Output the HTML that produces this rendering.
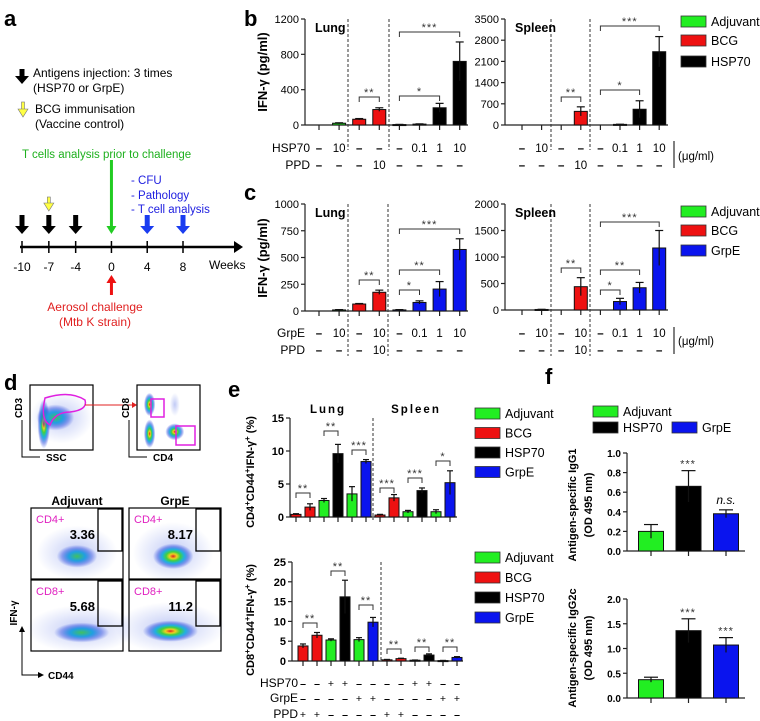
<!DOCTYPE html>
<html><head><meta charset="utf-8"><style>
html,body{margin:0;padding:0;background:#fff;}
svg{display:block;font-family:"Liberation Sans",sans-serif;}
</style></head><body>
<svg id="fig" width="760" height="721" viewBox="0 0 760 721" xmlns="http://www.w3.org/2000/svg">
<defs>
<radialGradient id="dens" cx="50%" cy="50%" r="50%">
<stop offset="0" stop-color="#e02020"/><stop offset="0.18" stop-color="#f0d020"/><stop offset="0.35" stop-color="#40d040"/><stop offset="0.55" stop-color="#20b0e0"/><stop offset="0.78" stop-color="#3050e0" stop-opacity="0.5"/><stop offset="1" stop-color="#3050e0" stop-opacity="0"/>
</radialGradient>
<radialGradient id="dens2" cx="50%" cy="50%" r="50%">
<stop offset="0" stop-color="#40c060"/><stop offset="0.4" stop-color="#20a0e0"/><stop offset="0.75" stop-color="#3050e0" stop-opacity="0.45"/><stop offset="1" stop-color="#3050e0" stop-opacity="0"/>
</radialGradient>
<radialGradient id="sparse" cx="50%" cy="50%" r="50%">
<stop offset="0" stop-color="#3050e0" stop-opacity="0.3"/><stop offset="1" stop-color="#3050e0" stop-opacity="0"/>
</radialGradient>
</defs>
<g id="panelA">
<text x="4" y="26" font-size="22" font-weight="bold">a</text>
<text x="33" y="77" font-size="12">Antigens injection: 3 times</text>
<text x="33" y="92" font-size="12">(HSP70 or GrpE)</text>
<text x="35" y="113" font-size="12">BCG immunisation</text>
<text x="35" y="128" font-size="12">(Vaccine control)</text>
<text x="22" y="158" font-size="11.5" fill="#1eb01e">T cells analysis prior to challenge</text>
<text x="131" y="184" font-size="11.5" fill="#2020e0">- CFU</text>
<text x="131" y="199" font-size="11.5" fill="#2020e0">- Pathology</text>
<text x="131" y="213" font-size="11.5" fill="#2020e0">- T cell analysis</text>
<line x1="20" y1="247" x2="235" y2="247" stroke="#000" stroke-width="2.5"/>
<polygon points="234,241 243,247 234,253" fill="#000"/>
<text x="209" y="269" font-size="12">Weeks</text>
<text x="95" y="311" font-size="12" fill="#e02020" text-anchor="middle">Aerosol challenge</text>
<text x="95" y="326" font-size="12" fill="#e02020" text-anchor="middle">(Mtb K strain)</text>
</g>
<g id="gen"></g>
</svg>
<script>
// ---------- data ----------
const weekTicks=[-10,-7,-4,0,4,8];
const bLungCats=["-","10","-","-","-","0.1","1","10"];
const bLungPPD=["-","-","-","10","-","-","-","-"];
const bLungVals=[0,20,65,175,5,10,195,720];
const bLungErr=[0,5,8,20,2,3,50,220];
const bSpleenCats=["-","10","-","-","-","0.1","1","10"];
const bSpleenVals=[0,0,0,450,0,20,520,2420];
const bSpleenErr=[0,0,0,150,0,5,280,500];
const cLungCats=["-","10","-","10","-","0.1","1","10"];
const cLungPPD=["-","-","-","10","-","-","-","-"];
const cLungVals=[0,10,65,175,10,80,205,575];
const cLungErr=[0,3,5,20,3,15,70,100];
const cSpleenVals=[0,10,0,440,0,160,420,1170];
const cSpleenErr=[0,3,0,170,0,60,100,330];
const bTicks=[0,400,800,1200];
const bSpleenTicks=[0,700,1400,2100,2800,3500];
const cTicks=[0,250,500,750,1000];
const cSpleenTicks=[0,500,1000,1500,2000];
const eUpperVals=[0.4,1.5,2.5,9.6,3.5,8.4,0.3,2.9,0.8,4.0,0.8,5.2];
const eUpperErr=[0.1,0.5,0.3,1.4,1.1,0.3,0.1,0.5,0.2,0.4,0.3,1.8];
const eLowerVals=[3.8,6.5,5.3,16.2,5.4,9.8,0.3,0.6,0.2,1.5,0.1,0.9];
const eLowerErr=[0.5,0.7,0.3,4.2,0.5,1.2,0.1,0.1,0.05,0.3,0.05,0.2];
const eGroups=["BCG","BCG","Adjuvant","HSP70","Adjuvant","GrpE","BCG","BCG","Adjuvant","HSP70","Adjuvant","GrpE"];
const eUpperTicks=[0,5,10,15];
const eLowerTicks=[0,5,10,15,20,25];
const eHSP=["-","-","+","+","-","-","-","-","+","+","-","-"];
const eGrpE=["-","-","-","-","+","+","-","-","-","-","+","+"];
const ePPD=["+","+","-","-","-","-","+","+","-","-","-","-"];
const fGroups=["Adjuvant","HSP70","GrpE"];
const fIgG1Vals=[0.2,0.66,0.38];
const fIgG1Err=[0.07,0.16,0.04];
const fIgG2cVals=[0.37,1.36,1.07];
const fIgG2cErr=[0.05,0.24,0.15];
const fIgG1Ticks=["0.0","0.2","0.4","0.6","0.8","1.0"];
const fIgG2cTicks=["0.0","0.5","1.0","1.5","2.0"];
const colors={Adjuvant:"#22ee22",BCG:"#ee1111",HSP70:"#000000",GrpE:"#0a14ee"};
const bColors=["Adjuvant","Adjuvant","BCG","BCG","HSP70","HSP70","HSP70","HSP70"];
const cColors=["Adjuvant","Adjuvant","BCG","BCG","GrpE","GrpE","GrpE","GrpE"];

const NS="http://www.w3.org/2000/svg";
const G=document.getElementById('gen');
function el(tag,attrs,parent,text){const e=document.createElementNS(NS,tag);for(const k in attrs)e.setAttribute(k,attrs[k]);if(text!==undefined)e.textContent=text;(parent||G).appendChild(e);return e;}

// ---------- panel a ----------
function arrow(x,y1,y2,fill,w,parent){
  const dir=y2>y1?1:-1;
  const g=el('g',{},parent);
  
  
  el('rect',{x:x-w/2,y:Math.min(y1,y2-dir*7),width:w,height:Math.abs(y2-y1)-7,fill:fill,stroke:fill==='#ffff44'?'#777':'none','stroke-width':0.6},g);
  el('polygon',{points:`${x-w-2},${y2-dir*8} ${x+w+2},${y2-dir*8} ${x},${y2}`,fill:fill,stroke:fill==='#ffff44'?'#777':'none','stroke-width':0.6},g);
}
const weekScale=w=>22+(w+10)*(183-22)/18;
weekTicks.forEach(w=>{
  const x=weekScale(w);
  const t=el('line',{x1:x,y1:241,x2:x,y2:253,stroke:'#000','stroke-width':1.5});
  
  
  const l=el('text',{x:x,y:271,'font-size':12,'text-anchor':'middle'},G,String(w));
  
  
});
[-10,-7,-4].forEach(w=>arrow(weekScale(w),215,234,'#000',5));
arrow(22,69,84,'#000',5);
arrow(weekScale(-7),197,211,'#ffff44',3);
arrow(23,102,117,'#ffff44',3);
arrow(weekScale(0),160,234,'#22cc22',3);
arrow(weekScale(4),215,234,'#1a3cf0',5);
arrow(weekScale(8),215,234,'#1a3cf0',5);
arrow(weekScale(0),295,275,'#ee1111',3);

// ---------- generic bar chart ----------
function barChart(o){
  const g=el('g',{});
  
  
  const ys=v=>o.y0-(v-o.vmin)/(o.vmax-o.vmin)*(o.y0-o.yTop);
  el('line',{x1:o.ax,y1:o.yTop,x2:o.ax,y2:o.y0,stroke:'#222','stroke-width':1.2},g);
  el('line',{x1:o.ax,y1:o.y0,x2:o.axEnd,y2:o.y0,stroke:'#222','stroke-width':1.2},g);
  o.ticks.forEach(t=>{
    const y=ys(parseFloat(t));
    el('line',{x1:o.ax-4,y1:y,x2:o.ax,y2:y,stroke:'#222','stroke-width':1.2},g);
    const lab=el('text',{x:o.ax-6,y:y+4,'font-size':o.tfs||11,'text-anchor':'end','font-weight':o.tbold?'bold':'normal','letter-spacing':o.tls||0},g,String(t));
    
    
  });
  o.vals.forEach((v,i)=>{
    const x=o.x0+o.step*i;
    el('line',{x1:x,y1:o.y0,x2:x,y2:o.y0+5,stroke:'#222','stroke-width':1.2},g);
    if(v<=0&&!o.showZero)return;
    const top=ys(v);
    const r=el('rect',{x:x-o.bw/2,y:top,width:o.bw,height:Math.max(o.y0-top,1),fill:colors[o.groups[i]],stroke:'#111','stroke-width':1},g);
    
    
    const e=o.err[i];
    if(e>0){
      const yt=ys(v+e),yb=ys(Math.max(v-e,0));
      el('line',{x1:x,y1:yt,x2:x,y2:yb,stroke:'#111','stroke-width':1.2},g);
      el('line',{x1:x-o.capw,y1:yt,x2:x+o.capw,y2:yt,stroke:'#111','stroke-width':1.2},g);
    }
  });
  (o.dashes||[]).forEach(d=>{
    const l=el('line',{x1:d,y1:o.yTop,x2:d,y2:o.dashBottom||o.y0+40,stroke:'#333','stroke-width':1,'stroke-dasharray':'3,2'},g);
    
    
  });
  (o.brackets||[]).forEach(b=>{
    const xa=o.x0+o.step*b[0],xb=o.x0+o.step*b[1],y=b[2];
    const p=el('path',{d:`M${xa},${y+5}V${y}H${xb}V${y+5}`,fill:'none',stroke:'#333','stroke-width':1},g);
    
    
    const s=el('text',{x:(xa+xb)/2,y:y-1,'font-size':11,'text-anchor':'middle',fill:'#333','letter-spacing':1},g,b[3]);
    
    
  });
  (o.rows||[]).forEach(r=>{
    if(r.label){const t=el('text',{x:r.lx,y:r.y,'font-size':12,'text-anchor':'end'},g,r.label);
      }
    r.vals.forEach((s,i)=>{
      const t=el('text',{x:o.x0+o.step*i,y:r.y,'font-size':r.fs||11.5,'text-anchor':'middle','font-weight':s==='-'?'bold':'normal'},g,s==='-'?'–':s);
      
      
    });
  });
  if(o.title){
    const t=el('text',{x:o.title.x,y:o.title.y,'font-size':12.5,'font-weight':'bold','text-anchor':'start'},g,o.title.text);
    
    
  }
  return {g,ys};
}
function legend(x,y0,dy,items,name){
  const g=el('g',{});
  
  
  items.forEach((it,i)=>{
    const xx=Array.isArray(x)?x[i]:x, yy=Array.isArray(y0)?y0[i]:y0+dy*i;
    el('rect',{x:xx,y:yy-5,width:25,height:11,fill:colors[it],stroke:'#333','stroke-width':0.8},g);
    const t=el('text',{x:xx+30,y:yy+5,'font-size':12.5},g,it);
    
    
  });
}
function vtitle(x,y,parts,name,fs){
  const t=el('text',{x:0,y:0,'font-size':fs||12,'font-weight':'bold','text-anchor':'middle',transform:`translate(${x},${y}) rotate(-90)`});
  
  
  parts.forEach(p=>{el('tspan',p.sup?{'baseline-shift':'super','font-size':8}:{},t,p.t);});
}
function panelLabel(x,y,s){const t=el('text',{x,y,'font-size':22,'font-weight':'bold'},G,s);
  }

// ---------- panel b ----------
panelLabel(244,26,'b');
barChart({name:'b-lung-chart',ax:305,axEnd:468,y0:125,yTop:19,vmin:0,vmax:1200,ticks:bTicks,vals:bLungVals,err:bLungErr,groups:bColors,
 x0:319,step:20.1,bw:13,capw:4,dashes:[348,389],dashBottom:150,
 brackets:[[2,3,97,'**'],[4,6,96,'*'],[4,7,32,'***']],
 rows:[{label:'HSP70',lx:310,y:152,vals:bLungCats},{label:'PPD',lx:310,y:169,vals:bLungPPD}],
 title:{x:315,y:32,text:'Lung'}});
vtitle(267,72,[{t:'IFN-γ (pg/ml)'}],'b-y-axis-title',13);
barChart({name:'b-spleen-chart',ax:505,axEnd:668,y0:125,yTop:19,vmin:0,vmax:3500,ticks:bSpleenTicks,vals:bSpleenVals,err:bSpleenErr,groups:bColors,
 x0:522,step:19.6,bw:13,capw:4,dashes:[551,590],dashBottom:150,
 brackets:[[2,3,97,'**'],[4,6,90,'*'],[4,7,26,'***']],
 rows:[{y:152,vals:bSpleenCats},{y:169,vals:bLungPPD}],
 title:{x:515,y:32,text:'Spleen'}});
legend(681,[21,40,61],0,['Adjuvant','BCG','HSP70'],'b-legend');
el('line',{x1:674,y1:141,x2:674,y2:168,stroke:'#000','stroke-width':1});
el('text',{x:678,y:160,'font-size':11.5},G,'(μg/ml)');

// ---------- panel c ----------
panelLabel(244,200,'c');
barChart({name:'c-lung-chart',ax:305,axEnd:468,y0:311,yTop:204,vmin:0,vmax:1000,ticks:cTicks,vals:cLungVals,err:cLungErr,groups:cColors,
 x0:319,step:20.1,bw:13,capw:4,dashes:[348,388],dashBottom:356,
 brackets:[[2,3,280,'**'],[4,5,290,'*'],[4,6,270,'**'],[4,7,229,'***']],
 rows:[{label:'GrpE',lx:305,y:337,vals:cLungCats},{label:'PPD',lx:305,y:354,vals:cLungPPD}],
 title:{x:315,y:217,text:'Lung'}});
vtitle(267,258,[{t:'IFN-γ (pg/ml)'}],'c-y-axis-title',13);
barChart({name:'c-spleen-chart',ax:505,axEnd:668,y0:310,yTop:204,vmin:0,vmax:2000,ticks:cSpleenTicks,vals:cSpleenVals,err:cSpleenErr,groups:cColors,
 x0:522,step:19.6,bw:13,capw:4,dashes:[551,590],dashBottom:356,
 brackets:[[2,3,268,'**'],[4,5,290,'*'],[4,6,270,'**'],[4,7,222,'***']],
 rows:[{y:337,vals:cLungCats},{y:354,vals:cLungPPD}],
 title:{x:515,y:217,text:'Spleen'}});
legend(681,[211,230,250],0,['Adjuvant','BCG','GrpE'],'c-legend');
el('line',{x1:674,y1:327,x2:674,y2:354,stroke:'#000','stroke-width':1});
el('text',{x:678,y:345,'font-size':11.5},G,'(μg/ml)');

// ---------- panel d (flow cytometry) ----------
panelLabel(4,390,'d');
function flow(x,y,w,h,blobs,name){
  const g=el('g',{});
  
  
  el('rect',{x,y,width:w,height:h,fill:'#fff',stroke:'#000','stroke-width':1.2},g);
  blobs.forEach(b=>el('ellipse',{cx:x+b[0]*w,cy:y+b[1]*h,rx:b[2]*w,ry:b[3]*h,fill:`url(#${b[4]||'dens'})`},g));
  return g;
}
flow(30,385,63,65,[[0.5,0.5,0.5,0.4,'sparse'],[0.22,0.6,0.1,0.38],[0.4,0.5,0.3,0.2,'dens2']],'flow-cd3-ssc');
el('path',{d:'M45,398 Q70,390 85,400 Q88,410 70,412 Q55,412 50,425 Q40,420 45,398Z',fill:'none',stroke:'#e020e0','stroke-width':1.5});
el('line',{x1:85,y1:405,x2:132,y2:405,stroke:'#e02020','stroke-width':1});
el('polygon',{points:'132,402 137,405 132,408',fill:'#e02020'});
flow(137,385,63,65,[[0.2,0.3,0.09,0.18],[0.2,0.75,0.09,0.22],[0.6,0.72,0.15,0.13],[0.6,0.3,0.08,0.18,'sparse']],'flow-cd8-cd4');
el('rect',{x:151,y:399,width:13,height:18,fill:'none',stroke:'#e020e0','stroke-width':1.5});
el('rect',{x:176,y:426,width:19,height:19,fill:'none',stroke:'#e020e0','stroke-width':1.5});
[[30,'CD3','SSC'],[137,'CD8','CD4']].forEach(a=>{
  el('path',{d:`M${a[0]-8},420V457H${a[0]+10}`,fill:'none',stroke:'#000','stroke-width':1});
  el('text',{x:a[0]+16,y:461,'font-size':10,'font-weight':'bold'},G,a[2]);
  el('text',{x:0,y:0,'font-size':10,'font-weight':'bold','text-anchor':'middle',transform:`translate(${a[0]-8},408) rotate(-90)`},G,a[1]);
});
el('text',{x:77,y:505,'font-size':12,'font-weight':'bold','text-anchor':'middle'},G,'Adjuvant');
el('text',{x:175,y:505,'font-size':12,'font-weight':'bold','text-anchor':'middle'},G,'GrpE');
const dplots=[[31,508,'CD4+','3.36',[0.5,0.68,0.22,0.16],'flow-cd4-adjuvant'],[129,508,'CD4+','8.17',[0.48,0.68,0.22,0.18],'flow-cd4-grpe'],
 [31,580,'CD8+','5.68',[0.55,0.74,0.3,0.14],'flow-cd8-adjuvant'],[129,580,'CD8+','11.2',[0.45,0.72,0.3,0.15],'flow-cd8-grpe']];
dplots.forEach(p=>{
  const g=flow(p[0],p[1],92,71,[[p[4][0],p[4][1]-0.05,p[4][2]*2,p[4][3]*2.4,'sparse'],[p[4][0],p[4][1],p[4][2],p[4][3],(p[3]==='3.36'||p[3]==='5.68')?'dens2':'dens']],p[5]);
  el('rect',{x:p[0]+67,y:p[1]+1,width:24,height:(p[2]==='CD4+'?42:45),fill:'none',stroke:'#000','stroke-width':1.3},g);
  el('text',{x:p[0]+5,y:p[1]+15,'font-size':11,fill:'#e020c0'},g,p[2]);
  el('text',{x:p[0]+64,y:p[1]+31,'font-size':13,'font-weight':'bold','text-anchor':'end'},g,p[3]);
});
el('path',{d:'M22,630V675H38',fill:'none',stroke:'#000','stroke-width':1});
el('polygon',{points:'19,632 22,626 25,632',fill:'#000'});
el('polygon',{points:'38,672 44,675 38,678',fill:'#000'});
el('text',{x:48,y:679,'font-size':10,'font-weight':'bold'},G,'CD44');
el('text',{x:0,y:0,'font-size':10,'font-weight':'bold','text-anchor':'middle',transform:'translate(17,613) rotate(-90)'},G,'IFN-γ');

// ---------- panel e ----------
panelLabel(228,397,'e');
barChart({name:'e-cd4-chart',ax:290,axEnd:457,y0:517,yTop:418,vmin:0,vmax:15,ticks:eUpperTicks,vals:eUpperVals,err:eUpperErr,groups:eGroups,
 x0:296,step:14,bw:10,capw:3,tbold:true,dashes:[373],dashBottom:520,
 brackets:[[0,1,493,'**'],[2,3,431,'**'],[4,5,450,'***'],[6,7,488,'***'],[8,9,478,'***'],[10,11,461,'*']]});
el('text',{x:328,y:413,'font-size':11.5,'font-weight':'bold','text-anchor':'middle','letter-spacing':2},G,'Lung');
el('text',{x:416,y:413,'font-size':11.5,'font-weight':'bold','text-anchor':'middle','letter-spacing':2},G,'Spleen');
vtitle(254,472,[{t:'CD4'},{t:'+',sup:true},{t:'CD44'},{t:'+',sup:true},{t:'IFN-γ'},{t:'+',sup:true},{t:' (%)'}],'e-cd4-y-title',11);
barChart({name:'e-cd8-chart',ax:292,axEnd:463,y0:661,yTop:562,vmin:0,vmax:25,ticks:eLowerTicks,vals:eLowerVals,err:eLowerErr,groups:eGroups,
 x0:303,step:14,bw:10,capw:3,tbold:true,dashes:[381],dashBottom:661,
 brackets:[[0,1,623,'**'],[2,3,571,'**'],[4,5,605,'**'],[6,7,649,'**'],[8,9,647,'**'],[10,11,647,'**']],
 rows:[{label:'HSP70',lx:298,y:687,vals:eHSP,fs:10.5},{label:'GrpE',lx:298,y:702,vals:eGrpE,fs:10.5},{label:'PPD',lx:298,y:718,vals:ePPD,fs:10.5}]});
vtitle(254,620,[{t:'CD8'},{t:'+',sup:true},{t:'CD44'},{t:'+',sup:true},{t:'IFN-γ'},{t:'+',sup:true},{t:' (%)'}],'e-cd8-y-title',11);
legend(475,413,19.5,['Adjuvant','BCG','HSP70','GrpE'],'e-upper-legend');
legend(475,557,20,['Adjuvant','BCG','HSP70','GrpE'],'e-lower-legend');

// ---------- panel f ----------
panelLabel(545,384,'f');
legend([593,593,672],[411,427,427],0,['Adjuvant','HSP70','GrpE'],'f-legend');
const f1=barChart({name:'f-igg1-chart',ax:627,axEnd:745,y0:551,yTop:453,vmin:0,vmax:1,ticks:fIgG1Ticks,vals:fIgG1Vals,err:fIgG1Err,groups:fGroups,
 x0:651,step:37.5,bw:25,capw:7,tbold:true,tfs:10});
el('text',{x:688,y:f1.ys(fIgG1Vals[1]+fIgG1Err[1])-3,'font-size':11,'text-anchor':'middle',fill:'#333','letter-spacing':1},G,'***');
el('text',{x:726,y:f1.ys(fIgG1Vals[2]+fIgG1Err[2])-6,'font-size':12,'font-style':'italic','text-anchor':'middle'},G,'n.s.');
const f2=barChart({name:'f-igg2c-chart',ax:627,axEnd:745,y0:698,yTop:599,vmin:0,vmax:2,ticks:fIgG2cTicks,vals:fIgG2cVals,err:fIgG2cErr,groups:fGroups,
 x0:651,step:37.5,bw:25,capw:7,tbold:true,tfs:10});
el('text',{x:688,y:f2.ys(fIgG2cVals[1]+fIgG2cErr[1])-3,'font-size':11,'text-anchor':'middle',fill:'#333','letter-spacing':1},G,'***');
el('text',{x:726,y:f2.ys(fIgG2cVals[2]+fIgG2cErr[2])-3,'font-size':11,'text-anchor':'middle',fill:'#333','letter-spacing':1},G,'***');
vtitle(576,505,[{t:'Antigen-specific IgG1'}],'f-igg1-y-title',11);
vtitle(592,505,[{t:'(OD 495 nm)'}],'f-igg1-y-unit',11);
vtitle(576,648,[{t:'Antigen-specific IgG2c'}],'f-igg2c-y-title',11);
vtitle(592,648,[{t:'(OD 495 nm)'}],'f-igg2c-y-unit',11);
</script>
</body></html>
